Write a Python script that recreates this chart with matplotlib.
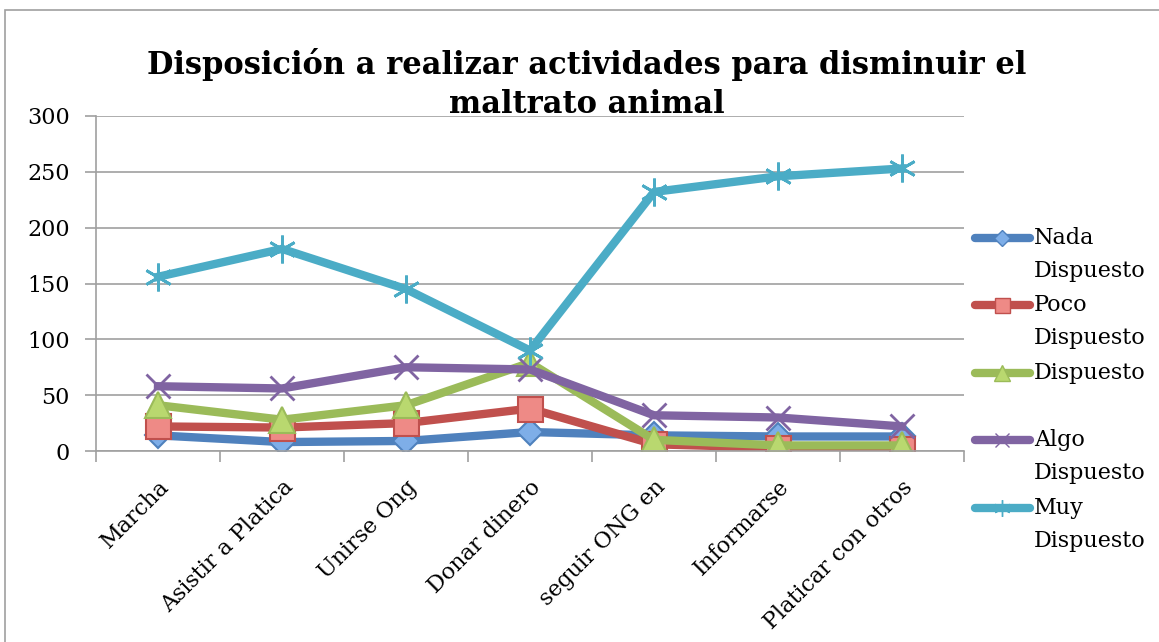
import numpy as np
import matplotlib
matplotlib.use("Agg")
import matplotlib.pyplot as plt
from matplotlib.lines import Line2D
from matplotlib.patches import Rectangle

plt.rcParams['font.family'] = ['DejaVu Serif']

# data
categorias = ["Marcha", "Asistir a Platica", "Unirse Ong", "Donar dinero",
              "seguir ONG en", "Informarse", "Platicar con otros"]
nada = [14, 8, 9, 17, 14, 13, 13]
poco = [22, 21, 25, 38, 6, 3, 2]
dispuesto = [41, 28, 41, 79, 10, 5, 5]
algo = [58, 56, 75, 73, 32, 30, 22]
muy = [156, 181, 145, 90, 232, 246, 253]

series = [
    ("Nada\nDispuesto", nada, "#4F81BD", "D", "#7EAEE8", 13),
    ("Poco\nDispuesto", poco, "#C0504D", "s", "#EE8A86", 18),
    ("Dispuesto", dispuesto, "#9BBB59", "^", "#B9D86F", 19),
    ("Algo\nDispuesto", algo, "#8064A2", "x", "#8064A2", 17),
    ("Muy\nDispuesto", muy, "#4BACC6", (6, 2, 0), "#4BACC6", 20),
]

W, H = 1159, 642
fig = plt.figure(figsize=(W / 100, H / 100), dpi=100)
ax = fig.add_axes([96 / W, 1 - 451 / H, (964 - 96) / W, (451 - 116) / H])

x = np.arange(len(categorias))
for lab, vals, col, mk, fc, ms in series:
    ax.plot(x, vals, color=col, lw=6, marker=mk, markersize=ms,
            markerfacecolor=fc, markeredgecolor=col,
            markeredgewidth=1.5 if mk not in ("x", (6, 2, 0)) else 2)

ax.set_xlim(-0.5, 6.5)
ax.set_ylim(0, 300)
ax.set_yticks(np.arange(0, 301, 50))
ax.yaxis.grid(True, color="#A0A0A0", lw=1.2)
ax.set_axisbelow(True)
for s in ["top", "right"]:
    ax.spines[s].set_visible(False)
for s in ["left", "bottom"]:
    ax.spines[s].set_color("#A0A0A0")
    ax.spines[s].set_linewidth(1.2)
ax.tick_params(axis="y", length=8, width=1.2, color="#A0A0A0", pad=11, labelsize=16)

ax.set_xticks(x)
ax.set_xticklabels(categorias, rotation=45, ha="right", rotation_mode="anchor", fontsize=16)
ax.tick_params(axis="x", which="major", length=0, pad=18)
ax.set_xticks(np.arange(-0.5, 7, 1), minor=True)
ax.tick_params(axis="x", which="minor", length=8, width=1.2, color="#A0A0A0")

fig.text(587 / W, 1 - 84 / H, "Disposición a realizar actividades para disminuir el\nmaltrato animal",
         ha="center", va="center", fontsize=22, fontweight="bold", linespacing=1.35)

# legend
leg_rows = [238, 305, 373, 440, 508]
for (lab, vals, col, mk, fc, ms), yy in zip(series, leg_rows):
    yf = 1 - yy / H
    fig.add_artist(Line2D([975 / W, 1030 / W], [yf, yf], color=col, lw=6,
                          solid_capstyle="round"))
    fig.add_artist(Line2D([1002 / W], [yf], color=col, marker=mk, markersize=ms * 0.6,
                          markerfacecolor=fc, markeredgecolor=col))
    for i, part in enumerate(lab.split("\n")):
        fig.text(1034 / W, 1 - (yy + 33 * i) / H, part, ha="left", va="center", fontsize=16)

fig.add_artist(Rectangle((5 / W, -0.1), 1.2, 1 - 10 / H + 0.1, fill=False,
                         edgecolor="#A0A0A0", lw=1.2, transform=fig.transFigure))

fig.savefig("out.png", dpi=100)
